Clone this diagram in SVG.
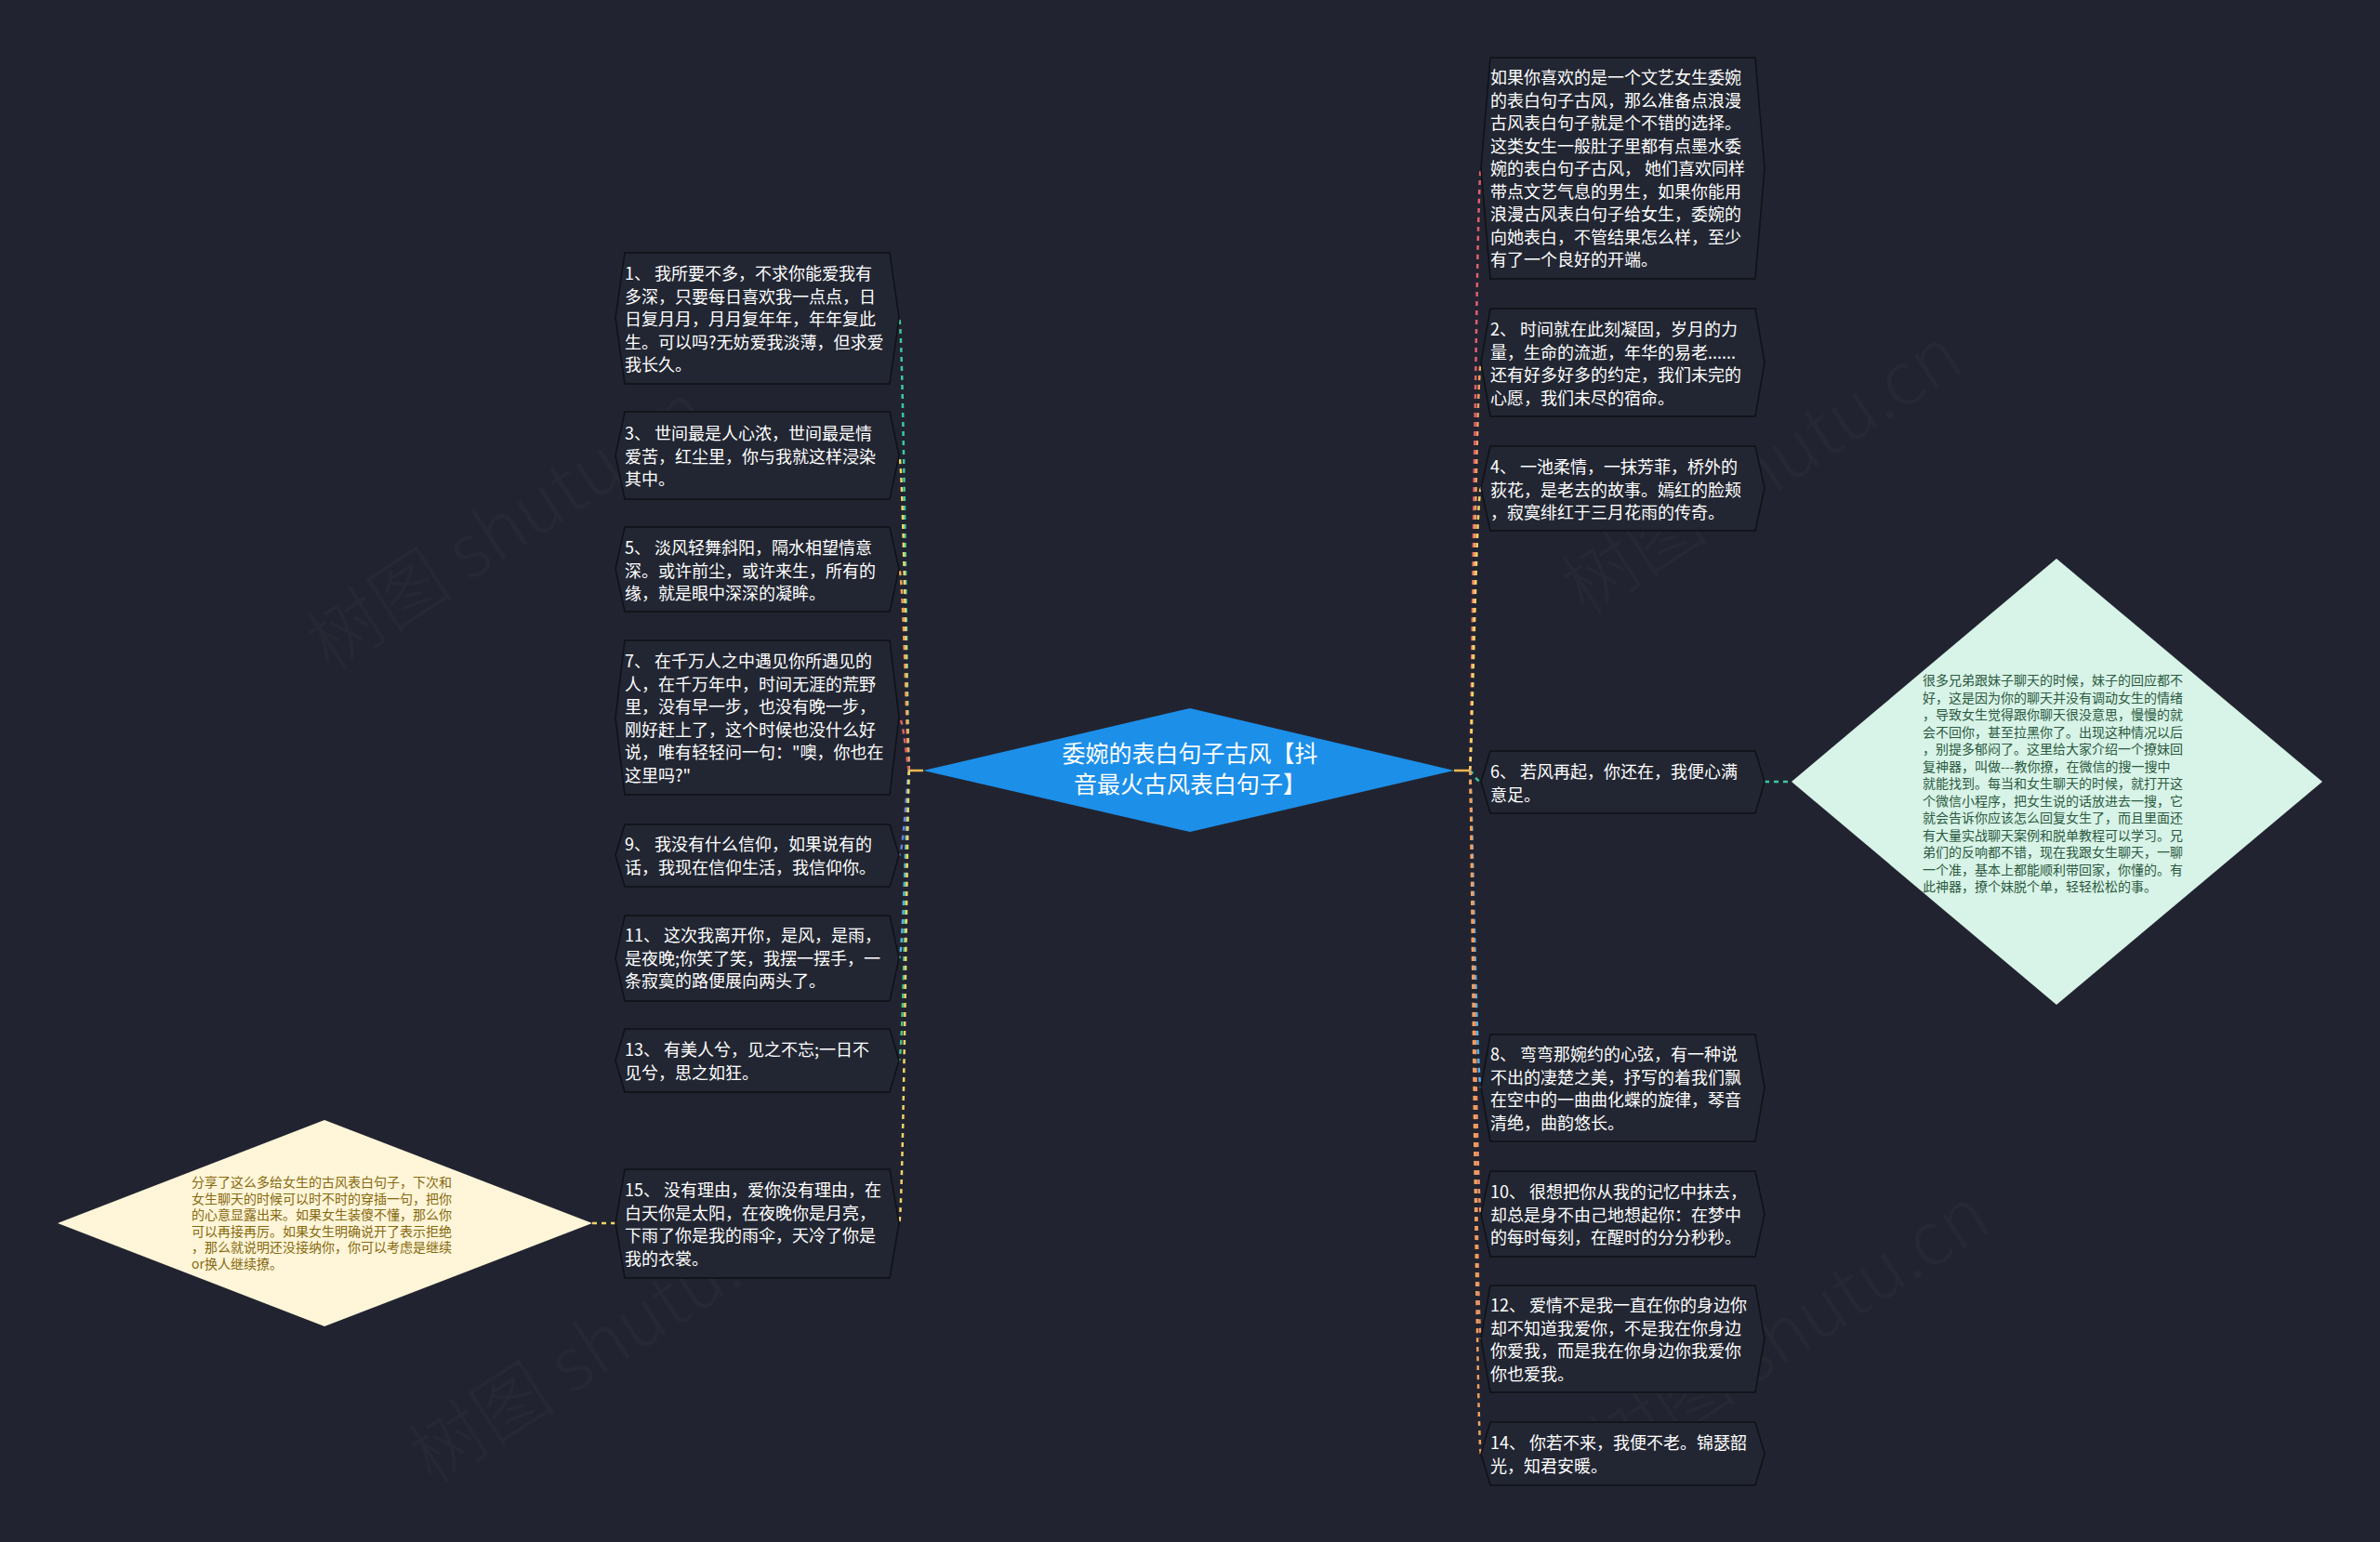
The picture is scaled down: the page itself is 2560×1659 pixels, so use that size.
<svg xmlns="http://www.w3.org/2000/svg" width="2560" height="1659" viewBox="0 0 2560 1659">
<defs>
<style>
.bg{fill:#212430}
.box{fill:#222632;stroke:#0f1116;stroke-width:1.5}
.t{font-family:"Noto Sans CJK SC","Noto Sans",sans-serif;font-size:18px;fill:#ffffff}
.ct{font-family:"Noto Sans CJK SC","Noto Sans",sans-serif;font-size:25px;fill:#ffffff;text-anchor:middle}
.yt{font-family:"Noto Sans CJK SC","Noto Sans",sans-serif;font-size:14px;fill:#86690f}
.gt{font-family:"Noto Sans CJK SC","Noto Sans",sans-serif;font-size:14px;fill:#2b5a40}
.wm{font-family:"Noto Sans CJK SC","Noto Sans",sans-serif;font-size:80px;font-weight:300;fill:#ffffff;fill-opacity:0.022}
.c{fill:none;stroke-width:2.5;stroke-dasharray:5 5}
</style>
</defs>
<rect class="bg" x="0" y="0" width="2560" height="1659"/>

<g id="watermarks">
<text class="wm" x="560" y="590" text-anchor="middle" transform="rotate(-33 560 590)">树图 shutu.cn</text>
<text class="wm" x="1910" y="530" text-anchor="middle" transform="rotate(-33 1910 530)">树图 shutu.cn</text>
<text class="wm" x="670" y="1465" text-anchor="middle" transform="rotate(-33 670 1465)">树图 shutu.cn</text>
<text class="wm" x="1940" y="1455" text-anchor="middle" transform="rotate(-33 1940 1455)">树图 shutu.cn</text>
</g>

<g id="connectors">
<line x1="993" y1="829" x2="978" y2="829" stroke="#f2b84f" stroke-width="2.5"/>
<line x1="1564" y1="829" x2="1581" y2="829" stroke="#f2b84f" stroke-width="2.5"/>
<path class="c" stroke="#3cc9a0" d="M978 829 C976 829 972 342 967 342"/>
<path class="c" stroke="#f3d46a" d="M978 829 C976 829 972 490 967 490"/>
<path class="c" stroke="#f0a05e" d="M978 829 C976 829 972 612 967 612"/>
<path class="c" stroke="#e0606c" d="M978 829 C976 829 972 772 967 772"/>
<path class="c" stroke="#6f7fd9" d="M978 829 C976 829 972 920 967 920"/>
<path class="c" stroke="#55b3e8" d="M978 829 C976 829 972 1031 967 1031"/>
<path class="c" stroke="#43c487" d="M978 829 C976 829 972 1141 967 1141"/>
<path class="c" stroke="#f2d36a" d="M978 829 C976 829 972 1316 967 1316"/>
<path class="c" stroke="#e0606c" d="M1581 829 C1583 829 1588 181 1593 181"/>
<path class="c" stroke="#f0a05e" d="M1581 829 C1583 829 1588 390 1593 390"/>
<path class="c" stroke="#f3d46a" d="M1581 829 C1583 829 1588 525 1593 525"/>
<path class="c" stroke="#3cc9a0" d="M1581 829 C1583 829 1588 841 1593 841"/>
<path class="c" stroke="#55b3e8" d="M1581 829 C1583 829 1588 1170 1593 1170"/>
<path class="c" stroke="#f0956a" d="M1581 829 C1583 829 1588 1306 1593 1306"/>
<path class="c" stroke="#ee8f66" d="M1581 829 C1583 829 1588 1440 1593 1440"/>
<path class="c" stroke="#f0a05e" d="M1581 829 C1583 829 1588 1564 1593 1564"/>
<path class="c" stroke="#f2d36a" d="M662 1316 L637 1316"/>
<path class="c" stroke="#3cc9a0" d="M1898 841 L1927 841"/>
</g>

<g id="center">
<polygon points="993,829 1280,762 1564,829 1280,895" fill="#1c8fe9"/>
<text class="ct" x="1280" y="820">委婉的表白句子古风【抖</text>
<text class="ct" x="1280" y="853">音最火古风表白句子】</text>
</g>

<g id="n1">
<path class="box" d="M672 272 L957 272 L967 342 L957 413 L672 413 L662 342 Z"/>
<text class="t" x="672" y="301">1、 我所要不多，不求你能爱我有</text>
<text class="t" x="672" y="325.5">多深，只要每日喜欢我一点点，日</text>
<text class="t" x="672" y="350">日复月月，月月复年年，年年复此</text>
<text class="t" x="672" y="374.5">生。可以吗?无妨爱我淡薄，但求爱</text>
<text class="t" x="672" y="399">我长久。</text>
</g>
<g id="n3">
<path class="box" d="M672 443 L957 443 L967 490 L957 537 L672 537 L662 490 Z"/>
<text class="t" x="672" y="473">3、 世间最是人心浓，世间最是情</text>
<text class="t" x="672" y="497.5">爱苦，红尘里，你与我就这样浸染</text>
<text class="t" x="672" y="522">其中。</text>
</g>
<g id="n5">
<path class="box" d="M672 567 L957 567 L967 612 L957 658 L672 658 L662 612 Z"/>
<text class="t" x="672" y="596">5、 淡风轻舞斜阳，隔水相望情意</text>
<text class="t" x="672" y="620.5">深。或许前尘，或许来生，所有的</text>
<text class="t" x="672" y="645">缘，就是眼中深深的凝眸。</text>
</g>
<g id="n7">
<path class="box" d="M672 689 L957 689 L967 772 L957 855 L672 855 L662 772 Z"/>
<text class="t" x="672" y="718">7、 在千万人之中遇见你所遇见的</text>
<text class="t" x="672" y="742.5">人，在千万年中，时间无涯的荒野</text>
<text class="t" x="672" y="767">里，没有早一步，也没有晚一步，</text>
<text class="t" x="672" y="791.5">刚好赶上了，这个时候也没什么好</text>
<text class="t" x="672" y="816">说，唯有轻轻问一句："噢，你也在</text>
<text class="t" x="672" y="840.5">这里吗?"</text>
</g>
<g id="n9">
<path class="box" d="M672 887 L957 887 L967 920 L957 954 L672 954 L662 920 Z"/>
<text class="t" x="672" y="915">9、 我没有什么信仰，如果说有的</text>
<text class="t" x="672" y="939.5">话，我现在信仰生活，我信仰你。</text>
</g>
<g id="n11">
<path class="box" d="M672 985 L957 985 L967 1031 L957 1077 L672 1077 L662 1031 Z"/>
<text class="t" x="672" y="1013">11、 这次我离开你，是风，是雨，</text>
<text class="t" x="672" y="1037.5">是夜晚;你笑了笑，我摆一摆手，一</text>
<text class="t" x="672" y="1062">条寂寞的路便展向两头了。</text>
</g>
<g id="n13">
<path class="box" d="M672 1107 L957 1107 L967 1141 L957 1175 L672 1175 L662 1141 Z"/>
<text class="t" x="672" y="1136">13、 有美人兮，见之不忘;一日不</text>
<text class="t" x="672" y="1160.5">见兮，思之如狂。</text>
</g>
<g id="n15">
<path class="box" d="M672 1258 L957 1258 L967 1316 L957 1375 L672 1375 L662 1316 Z"/>
<text class="t" x="672" y="1287">15、 没有理由，爱你没有理由，在</text>
<text class="t" x="672" y="1311.5">白天你是太阳，在夜晚你是月亮，</text>
<text class="t" x="672" y="1336">下雨了你是我的雨伞，天冷了你是</text>
<text class="t" x="672" y="1360.5">我的衣裳。</text>
</g>

<g id="nL">
<polygon points="62,1316 349,1205 637,1316 349,1427" fill="#fff5d8"/>
<text class="yt" x="206" y="1277">分享了这么多给女生的古风表白句子，下次和</text>
<text class="yt" x="206" y="1294.5">女生聊天的时候可以时不时的穿插一句，把你</text>
<text class="yt" x="206" y="1312">的心意显露出来。如果女生装傻不懂，那么你</text>
<text class="yt" x="206" y="1329.5">可以再接再厉。如果女生明确说开了表示拒绝</text>
<text class="yt" x="206" y="1347">，那么就说明还没接纳你，你可以考虑是继续</text>
<text class="yt" x="206" y="1364.5">or换人继续撩。</text>
</g>

<g id="r0">
<path class="box" d="M1603 62 L1888 62 L1898 181 L1888 300 L1603 300 L1593 181 Z"/>
<text class="t" x="1603" y="90">如果你喜欢的是一个文艺女生委婉</text>
<text class="t" x="1603" y="114.5">的表白句子古风，那么准备点浪漫</text>
<text class="t" x="1603" y="139">古风表白句子就是个不错的选择。</text>
<text class="t" x="1603" y="163.5">这类女生一般肚子里都有点墨水委</text>
<text class="t" x="1603" y="188">婉的表白句子古风， 她们喜欢同样</text>
<text class="t" x="1603" y="212.5">带点文艺气息的男生，如果你能用</text>
<text class="t" x="1603" y="237">浪漫古风表白句子给女生，委婉的</text>
<text class="t" x="1603" y="261.5">向她表白，不管结果怎么样，至少</text>
<text class="t" x="1603" y="286">有了一个良好的开端。</text>
</g>
<g id="r2">
<path class="box" d="M1603 332 L1888 332 L1898 390 L1888 448 L1603 448 L1593 390 Z"/>
<text class="t" x="1603" y="361">2、 时间就在此刻凝固，岁月的力</text>
<text class="t" x="1603" y="385.5">量，生命的流逝，年华的易老......</text>
<text class="t" x="1603" y="410">还有好多好多的约定，我们未完的</text>
<text class="t" x="1603" y="434.5">心愿，我们未尽的宿命。</text>
</g>
<g id="r4">
<path class="box" d="M1603 480 L1888 480 L1898 525 L1888 571 L1603 571 L1593 525 Z"/>
<text class="t" x="1603" y="509">4、 一池柔情，一抹芳菲，桥外的</text>
<text class="t" x="1603" y="533.5">荻花，是老去的故事。嫣红的脸颊</text>
<text class="t" x="1603" y="558">，寂寞绯红于三月花雨的传奇。</text>
</g>
<g id="r6">
<path class="box" d="M1603 808 L1888 808 L1898 841 L1888 875 L1603 875 L1593 841 Z"/>
<text class="t" x="1603" y="837">6、 若风再起，你还在，我便心满</text>
<text class="t" x="1603" y="861.5">意足。</text>
</g>
<g id="r8">
<path class="box" d="M1603 1113 L1888 1113 L1898 1170 L1888 1228 L1603 1228 L1593 1170 Z"/>
<text class="t" x="1603" y="1141">8、 弯弯那婉约的心弦，有一种说</text>
<text class="t" x="1603" y="1165.5">不出的凄楚之美，抒写的着我们飘</text>
<text class="t" x="1603" y="1190">在空中的一曲曲化蝶的旋律，琴音</text>
<text class="t" x="1603" y="1214.5">清绝，曲韵悠长。</text>
</g>
<g id="r10">
<path class="box" d="M1603 1260 L1888 1260 L1898 1306 L1888 1352 L1603 1352 L1593 1306 Z"/>
<text class="t" x="1603" y="1289">10、 很想把你从我的记忆中抹去，</text>
<text class="t" x="1603" y="1313.5">却总是身不由己地想起你：在梦中</text>
<text class="t" x="1603" y="1338">的每时每刻，在醒时的分分秒秒。</text>
</g>
<g id="r12">
<path class="box" d="M1603 1383 L1888 1383 L1898 1440 L1888 1498 L1603 1498 L1593 1440 Z"/>
<text class="t" x="1603" y="1411">12、 爱情不是我一直在你的身边你</text>
<text class="t" x="1603" y="1435.5">却不知道我爱你，不是我在你身边</text>
<text class="t" x="1603" y="1460">你爱我，而是我在你身边你我爱你</text>
<text class="t" x="1603" y="1484.5">你也爱我。</text>
</g>
<g id="r14">
<path class="box" d="M1603 1530 L1888 1530 L1898 1564 L1888 1598 L1603 1598 L1593 1564 Z"/>
<text class="t" x="1603" y="1559">14、 你若不来，我便不老。锦瑟韶</text>
<text class="t" x="1603" y="1583.5">光，知君安暖。</text>
</g>

<g id="nR">
<polygon points="1927,841 2212,601 2498,841 2212,1081" fill="#d8f3e7"/>
<text class="gt" x="2068" y="737">很多兄弟跟妹子聊天的时候，妹子的回应都不</text>
<text class="gt" x="2068" y="755.5">好，这是因为你的聊天并没有调动女生的情绪</text>
<text class="gt" x="2068" y="774">，导致女生觉得跟你聊天很没意思，慢慢的就</text>
<text class="gt" x="2068" y="792.5">会不回你，甚至拉黑你了。出现这种情况以后</text>
<text class="gt" x="2068" y="811">，别提多郁闷了。这里给大家介绍一个撩妹回</text>
<text class="gt" x="2068" y="829.5">复神器，叫做---教你撩，在微信的搜一搜中</text>
<text class="gt" x="2068" y="848">就能找到。每当和女生聊天的时候，就打开这</text>
<text class="gt" x="2068" y="866.5">个微信小程序，把女生说的话放进去一搜，它</text>
<text class="gt" x="2068" y="885">就会告诉你应该怎么回复女生了，而且里面还</text>
<text class="gt" x="2068" y="903.5">有大量实战聊天案例和脱单教程可以学习。兄</text>
<text class="gt" x="2068" y="922">弟们的反响都不错，现在我跟女生聊天，一聊</text>
<text class="gt" x="2068" y="940.5">一个准，基本上都能顺利带回家，你懂的。有</text>
<text class="gt" x="2068" y="959">此神器，撩个妹脱个单，轻轻松松的事。</text>
</g>
</svg>
